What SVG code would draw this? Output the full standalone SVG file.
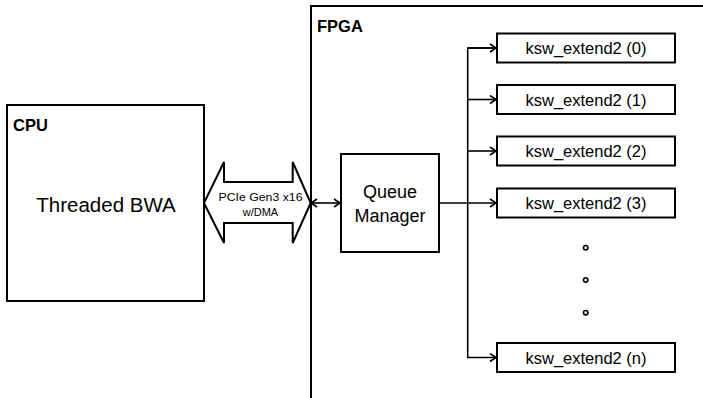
<svg xmlns="http://www.w3.org/2000/svg" width="703" height="398" viewBox="0 0 703 398">
<style>
.box{fill:#fff;stroke:#000;stroke-width:2}
.t{font-family:"Liberation Sans",Arial,sans-serif;fill:#000}
.b{font-weight:bold;font-size:16.5px}
.k{font-size:16.5px;text-anchor:middle}
.c{fill:none;stroke:#000;stroke-width:1.6}
.dot{fill:#fff;stroke:#000;stroke-width:1.6}
</style>
<defs>
<marker id="ah" viewBox="0 0 10 10" refX="8" refY="5" markerWidth="10" markerHeight="10" markerUnits="userSpaceOnUse" orient="auto-start-reverse">
<path d="M2,1 L8,5 L2,9" fill="none" stroke="#000" stroke-width="1.6"/>
</marker>
</defs>
<rect width="703" height="398" fill="#fff"/>
<g id="fpga">
<rect class="box" x="311" y="6" width="400" height="400"/>
<text class="t b" x="317" y="32">FPGA</text>
</g>
<g id="cpu">
<rect class="box" x="7" y="105" width="197" height="196"/>
<text class="t b" x="13" y="131">CPU</text>
<text class="t" x="106" y="212" font-size="20.5" text-anchor="middle">Threaded BWA</text>
</g>
<g id="pcie">
<path class="box" d="M204,203 L224,162 L224,182 L292.7,182 L292.7,162 L310.7,203 L292.7,243 L292.7,223 L224,223 L224,243 Z"/>
<text class="t" x="260.5" y="201" font-size="11" text-anchor="middle" textLength="84" lengthAdjust="spacingAndGlyphs">PCIe Gen3 x16</text>
<text class="t" x="260.5" y="215.5" font-size="11" text-anchor="middle">w/DMA</text>
</g>
<g id="queue-manager">
<rect class="box" x="341" y="154" width="98" height="98"/>
<text class="t" x="390" y="198" font-size="18" text-anchor="middle">Queue</text>
<text class="t" x="390" y="222" font-size="18" text-anchor="middle">Manager</text>
</g>
<g id="ksw0"><rect class="box" x="497" y="33.5" width="178" height="29"/><text class="t k" x="586" y="54">ksw_extend2 (0)</text></g>
<g id="ksw1"><rect class="box" x="497" y="85" width="178" height="29"/><text class="t k" x="586" y="105.5">ksw_extend2 (1)</text></g>
<g id="ksw2"><rect class="box" x="497" y="136.5" width="178" height="29"/><text class="t k" x="586" y="157">ksw_extend2 (2)</text></g>
<g id="ksw3"><rect class="box" x="497" y="188.5" width="178" height="29"/><text class="t k" x="586" y="209">ksw_extend2 (3)</text></g>
<g id="kswn"><rect class="box" x="497" y="343" width="178" height="29"/><text class="t k" x="586" y="363.5">ksw_extend2 (n)</text></g>
<g id="ellipsis">
<circle class="dot" cx="585.7" cy="247.7" r="2.2"/>
<circle class="dot" cx="585.7" cy="280" r="2.2"/>
<circle class="dot" cx="585.7" cy="312.7" r="2.2"/>
</g>
<g id="connectors">
<line class="c" x1="311" y1="203" x2="340" y2="203" marker-start="url(#ah)" marker-end="url(#ah)"/>
<line class="c" x1="439" y1="203" x2="496" y2="203" marker-end="url(#ah)"/>
<polyline class="c" points="496,48 467.7,48 467.7,357.5 496,357.5" marker-end="url(#ah)"/>
<line class="c" x1="467.7" y1="48" x2="496" y2="48" marker-end="url(#ah)"/>
<line class="c" x1="467.7" y1="99.5" x2="496" y2="99.5" marker-end="url(#ah)"/>
<line class="c" x1="467.7" y1="151" x2="496" y2="151" marker-end="url(#ah)"/>
</g>
</svg>
